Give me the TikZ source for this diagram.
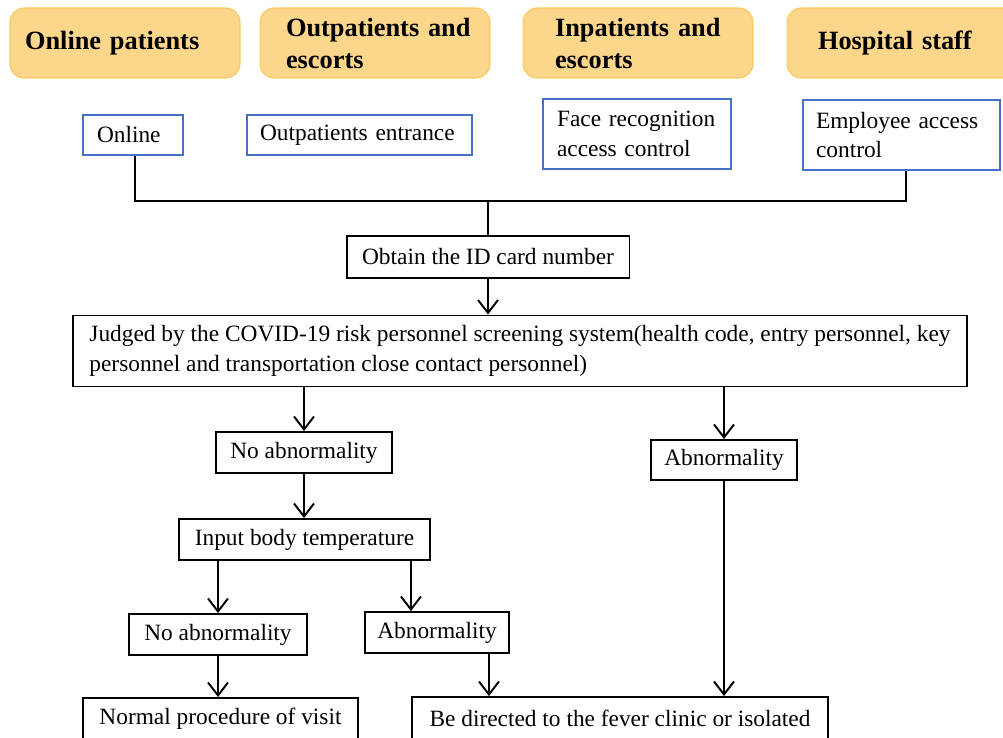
\documentclass[tikz,border=0pt]{standalone}
\usepackage{fontspec}
\setmainfont{Liberation Serif}
\usetikzlibrary{arrows.meta}
\definecolor{hdrfill}{HTML}{FCD68A}
\definecolor{hdrline}{HTML}{F8CB62}
\definecolor{gateblue}{HTML}{4472C4}
\tikzset{
	hdr/.style={shape=rectangle, rounded corners=8pt, fill=hdrfill, draw=hdrline, line width=0.6pt, minimum height=1.4cm, align=left, font=\fontsize{15pt}{18.2pt}\selectfont\bfseries},
	gate/.style={shape=rectangle, draw=gateblue, line width=1.6pt, align=left},
	stepbox/.style={shape=rectangle, draw=black, line width=1.1pt, minimum height=0.82cm, align=left},
	link/.style={line width=1.1pt},
	flow/.style={line width=1.1pt, -{Straight Barb[length=2.6mm,width=4mm]}}
}
\begin{document}
\begin{tikzpicture}[x=0.02cm, y=-0.02cm, font=\fontsize{13.3pt}{17pt}\selectfont]
	\clip (0,0) rectangle (1003,737);
	\node[hdr, inner xsep=0.3cm, text width=4cm] (h1) at (125,43) {Online patients};
	\node[hdr, inner xsep=0.52cm, text width=3.56cm] (h2) at (375,43) {\mbox{Outpatients and}\\escorts};
	\node[hdr, inner xsep=0.64cm, text width=3.32cm] (h3) at (638,43) {\mbox{Inpatients and}\\escorts};
	\node[hdr, inner xsep=0.62cm, text width=3.36cm] (h4) at (902,43) {Hospital staff};
	
	\node[gate, inner xsep=0.28cm, text width=1.44cm, minimum height=0.8cm] (on) at (133,135) {Online};
	\node[gate, inner xsep=0.26cm, text width=3.98cm, minimum height=0.8cm] (out) at (359.5,135) {Outpatients entrance};
	\node[gate, inner xsep=0.28cm, text width=3.2cm, minimum height=1.4cm] (face) at (637,134) {Face recognition\\access control};
	\node[gate, inner xsep=0.26cm, text width=3.42cm, minimum height=1.4cm] (emp) at (901.5,135) {Employee access\\control};
	
	\coordinate (jn) at (488,201);
	\draw[link] ([xshift=0.04cm]on.south) |- (jn) -| ([xshift=0.09cm]emp.south);
	
	\node[stepbox, minimum width=5.66cm, minimum height=0.84cm] (obt) at (488,257) {Obtain the ID card number};
	\node[stepbox, minimum width=17.9cm, minimum height=1.42cm] (jud) at (520,351) {Judged by the COVID-19 risk personnel screening system(health code, entry personnel, key\\personnel and transportation close contact personnel)};
	\node[stepbox, minimum width=3.52cm] (na1) at (304,452.5) {No abnormality};
	\node[stepbox, minimum width=2.92cm, minimum height=0.8cm] (ab1) at (724,460) {Abnormality};
	\node[stepbox, minimum width=5.02cm] (inp) at (304.5,539.5) {Input body temperature};
	\node[stepbox, minimum width=3.56cm] (na2) at (218,634.5) {No abnormality};
	\node[stepbox, minimum width=2.88cm] (ab2) at (437,632.5) {Abnormality};
	\node[stepbox, minimum width=5.5cm, minimum height=0.84cm] (nor) at (220.5,719) {Normal procedure of visit};
	\node[stepbox, minimum width=8.32cm, minimum height=0.84cm] (fev) at (620,718) {Be directed to the fever clinic or isolated};
	
	\draw[link] (jn) -- (jn |- obt.north);
	\draw[flow] (obt.south) -- (obt |- jud.north);
	\draw[flow] (na1 |- jud.south) -- (na1.north);
	\draw[flow] (ab1 |- jud.south) -- (ab1.north);
	\draw[flow] (na1.south) -- (na1 |- inp.north);
	\draw[flow] (na2 |- inp.south) -- (na2.north);
	\draw[flow] ([xshift=-0.4cm]inp.south east) -- ([xshift=-0.4cm]inp.south east |- ab2.north);
	\draw[flow] (na2.south) -- (na2 |- nor.north);
	\draw[flow] ([xshift=-0.42cm]ab2.south east) -- ([xshift=-0.42cm]ab2.south east |- fev.north);
	\draw[flow] (ab1.south) -- (ab1 |- fev.north);
\end{tikzpicture}
\end{document}
